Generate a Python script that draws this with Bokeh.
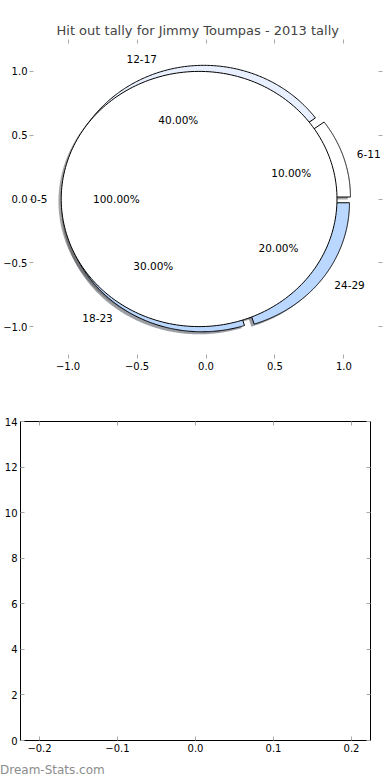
import numpy as np
from bokeh.plotting import figure
from bokeh.models import (ColumnDataSource, LinearAxis, FixedTicker, Range1d,
                          CustomJSTickFormatter, Label, Div)
from bokeh.embed import file_html
from bokeh.resources import INLINE

# ---------------- data ----------------
title_text = "Hit out tally for Jimmy Toumpas - 2013 tally"
age_groups = ["0-5", "6-11", "12-17", "18-23", "24-29"]
tally_share = [100.0, 10.0, 40.0, 30.0, 20.0]          # percent of each pie
pie_index = [0, 1, 1, 1, 1]                            # 0-5 is drawn as its own pie
wedge_colors = ["#ffffff", "#ffffff", "#e8f0ff", "#bad8ff", "#bad8ff"]
explode = [0.05, 0.05, 0.05, 0.05, 0.05]
pie_ticks = [-1.0, -0.5, 0.0, 0.5, 1.0]
bar_x_ticks = [-0.2, -0.1, 0.0, 0.1, 0.2]
bar_y_ticks = [0, 2, 4, 6, 8, 10, 12, 14]
watermark = "Dream-Stats.com"

FONT = "DejaVu Sans"
TICK_COLOR = "#a8a8a8"
fmt = CustomJSTickFormatter(code="return tick.toFixed(1).replace('-', '\\u2212');")
fmt_int = CustomJSTickFormatter(code="return tick.toFixed(0);")
blank = CustomJSTickFormatter(code="return '';")

# ---------------- pie geometry (from the data) ----------------
start = {0: 0.0, 1: 0.0}
wx, wy, sx, sy, fills, shadow_fills = [], [], [], [], [], []
lab_x, lab_y, lab_align, pct_x, pct_y, pct_text = [], [], [], [], [], []
for grp, share, col, ex, pi in zip(age_groups, tally_share, wedge_colors, explode, pie_index):
    t1 = start[pi]
    t2 = t1 + share / 100.0 * 360.0
    start[pi] = t2
    mid = np.radians((t1 + t2) / 2.0)
    cx, cy = ex * np.cos(mid), ex * np.sin(mid)
    t = np.radians(np.linspace(t1, t2, 240))
    ax_ = cx + np.cos(t)
    ay_ = cy + np.sin(t)
    if share < 100:
        ax_ = np.concatenate([[cx], ax_])
        ay_ = np.concatenate([[cy], ay_])
    wx.append(list(ax_)); wy.append(list(ay_))
    sx.append(list(ax_ - 0.02)); sy.append(list(ay_ - 0.02))
    fills.append(col)
    r, g, b = (int(col[i:i + 2], 16) for i in (1, 3, 5))
    shadow_fills.append("#%02x%02x%02x" % (int(r * 0.3), int(g * 0.3), int(b * 0.3)))
    lx = cx + 1.1 * np.cos(mid); ly = cy + 1.1 * np.sin(mid)
    lab_x.append(float(lx)); lab_y.append(float(ly))
    lab_align.append("left" if lx > 0 else "right")
    pct_x.append(float(cx + 0.6 * np.cos(mid))); pct_y.append(float(cy + 0.6 * np.sin(mid)))
    pct_text.append("%.2f%%" % share)

# draw order: all shadows, then the 4-slice pie, then the full 0-5 pie on top
order = [1, 2, 3, 4, 0]
shadow_src = ColumnDataSource(dict(xs=[sx[i] for i in order], ys=[sy[i] for i in order],
                                   c=[shadow_fills[i] for i in order]))
wedge_src = ColumnDataSource(dict(xs=[wx[i] for i in order], ys=[wy[i] for i in order],
                                  c=[fills[i] for i in order]))


def style_axis(ax, ticks, formatter, standoff=3):
    ax.ticker = FixedTicker(ticks=ticks)
    ax.formatter = formatter
    ax.axis_line_color = None
    ax.major_tick_in = 4
    ax.major_tick_out = 0
    ax.major_tick_line_color = TICK_COLOR
    ax.minor_tick_line_color = None
    ax.major_label_text_font = FONT
    ax.major_label_text_font_size = "10px"
    ax.major_label_text_color = "black"
    ax.major_label_standoff = standoff


# ---------------- top figure: pie ----------------
p1 = figure(width=390, height=388, x_range=Range1d(-1.28, 1.28), y_range=Range1d(-1.25, 1.25),
            output_backend="svg", toolbar_location=None,
            min_border_top=39, min_border_bottom=30, min_border_right=8, min_border_left=10)
p1.title.text = title_text
p1.title.text_font = FONT
p1.title.text_font_size = "13px"
p1.title.text_font_style = "normal"
p1.title.align = "left"
p1.title.offset = 27
p1.title.standoff = 3
p1.outline_line_color = None
p1.grid.visible = False

p1.patches("xs", "ys", source=shadow_src, fill_color="c", fill_alpha=0.5, line_color=None)
p1.patches("xs", "ys", source=wedge_src, fill_color="c", line_color="black", line_width=1)
for x, y, txt, al in zip(lab_x, lab_y, age_groups, lab_align):
    p1.add_layout(Label(x=x, y=y, text=txt, text_align=al, text_baseline="middle",
                        text_font=FONT, text_font_size="10.5px", text_color="black"))
for x, y, txt in zip(pct_x, pct_y, pct_text):
    p1.add_layout(Label(x=x, y=y, text=txt, text_align="center", text_baseline="middle",
                        text_font=FONT, text_font_size="10.5px", text_color="black"))

for ax in p1.xaxis:
    style_axis(ax, pie_ticks, fmt)
for ax in p1.yaxis:
    style_axis(ax, pie_ticks, fmt, standoff=2)
for loc in ("above", "right"):
    ax = LinearAxis()
    style_axis(ax, pie_ticks, blank, standoff=0)
    p1.add_layout(ax, loc)

# ---------------- bottom figure: empty axes ----------------
p2 = figure(width=390, height=372, x_range=Range1d(-0.2244, 0.2244), y_range=Range1d(0, 14),
            output_backend="svg", toolbar_location=None,
            min_border_top=33, min_border_bottom=20, min_border_right=20, min_border_left=20)
p2.outline_line_color = "black"
p2.outline_line_width = 1
p2.grid.visible = False
for ax in p2.xaxis:
    style_axis(ax, bar_x_ticks, fmt)
for ax in p2.yaxis:
    style_axis(ax, bar_y_ticks, fmt_int)
ax = LinearAxis(); style_axis(ax, bar_x_ticks, blank, standoff=0)
p2.add_layout(ax, "above")
ax = LinearAxis(); style_axis(ax, bar_y_ticks, blank, standoff=0)
p2.add_layout(ax, "right")

mark = Div(text=watermark, width=200, height=20, margin=(0, 0, 0, 0),
           styles={"font-family": FONT, "font-size": "12px", "color": "#8c8c8c",
                   "line-height": "20px"})

open("out.html", "w").write(file_html([p1, p2, mark], INLINE))
